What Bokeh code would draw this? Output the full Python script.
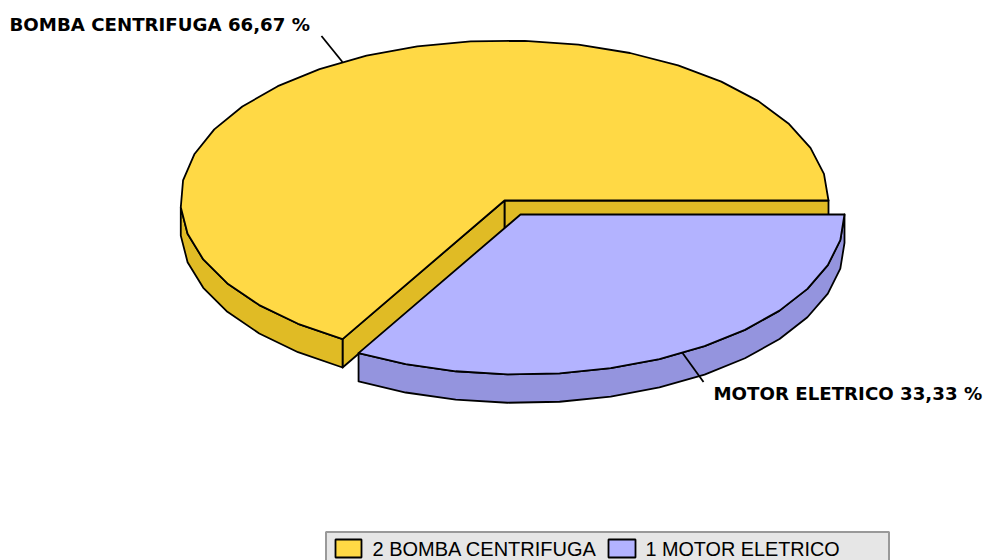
import math
from bokeh.plotting import figure
from bokeh.core.properties import value
from bokeh.embed import file_html
from bokeh.resources import INLINE

categories = ["BOMBA CENTRIFUGA", "MOTOR ELETRICO"]
legend_ids = ["2", "1"]
percent_labels = ["66,67", "33,33"]
values = [66.67, 33.33]
steps = [25, 13]

YELLOW, YELLOW_DK = "#FFD945", "#E0BB25"
BLUE, BLUE_DK = "#B3B3FF", "#9494DE"
INK = "#000000"
LW = 1.8

RX, RY, DEPTH = 324, 160, 28.4
CX, CY = 505, 200
OX, OY = 16, 14

p = figure(width=985, height=560, x_range=(1, 986), y_range=(560, 0),
           toolbar_location=None, output_backend="svg", min_border=0,
           outline_line_color=None)
p.axis.visible = False
p.grid.visible = False

total = sum(values)
a0 = 0.0
a1 = a0 + 360 * values[0] / total
a2 = a1 + 360 * values[1] / total


def pt(cx, cy, deg, dy=0):
    r = math.radians(deg)
    return cx + RX * math.cos(r), cy - RY * math.sin(r) + dy


def arc(cx, cy, start, end, n, dy=0, lo=None):
    out = []
    for i in range(n + 1):
        d = start + (end - start) * i / n
        if lo is None or d >= lo:
            out.append(pt(cx, cy, d, dy))
    return out


def poly(points, fill):
    p.patch([q[0] for q in points], [q[1] for q in points], fill_color=fill,
            line_color=INK, line_width=LW, line_join="round")


# Yellow slice: inner walls, outer wall, top
end_y = pt(CX, CY, a0)
cut_y = pt(CX, CY, a1)
poly([(CX, CY), end_y, (end_y[0], end_y[1] + DEPTH), (CX, CY + DEPTH)], YELLOW_DK)
poly([(CX, CY), cut_y, (cut_y[0], cut_y[1] + DEPTH), (CX, CY + DEPTH)], YELLOW_DK)
top_y = arc(CX, CY, a0, a1, steps[0])
wall = arc(CX, CY, a0, a1, steps[0], lo=180)
poly(wall + [(q[0], q[1] + DEPTH) for q in reversed(wall)], YELLOW_DK)
poly([(CX, CY)] + top_y, YELLOW)

# Blue slice: outer wall, top
bx, by = CX + OX, CY + OY
top_b = arc(bx, by, a1, a2, steps[1])
poly(top_b + [(q[0], q[1] + DEPTH) for q in reversed(top_b)], BLUE_DK)
poly([(bx, by)] + top_b, BLUE)

# Leader lines at the middle of each slice
m1 = pt(CX, CY, (a0 + a1) / 2)
m2 = pt(bx, by, (a1 + a2) / 2)
p.line([m1[0], m1[0] - 21], [m1[1], m1[1] - 26], line_color=INK, line_width=LW)
p.line([m2[0], m2[0] + 21], [m2[1], m2[1] + 29], line_color=INK, line_width=LW)

# Slice labels
label_font = value("DejaVu Sans")
p.text([10], [23.5], text=[f"{categories[0]} {percent_labels[0]} %"], text_font=label_font,
       text_font_style="bold", text_font_size="18.2px", text_baseline="middle", text_color=INK)
p.text([714], [392.5], text=[f"{categories[1]} {percent_labels[1]} %"], text_font=label_font,
       text_font_style="bold", text_font_size="18.2px", text_baseline="middle", text_color=INK)

# Legend
p.quad(left=[326.5], right=[889.5], top=[531.5], bottom=[575], fill_color="#E6E6E6",
       line_color="#999999", line_width=2)
p.quad(left=[336], right=[362], top=[539], bottom=[557], fill_color=YELLOW,
       line_color=INK, line_width=LW)
p.quad(left=[609], right=[636], top=[539], bottom=[557], fill_color=BLUE,
       line_color=INK, line_width=LW)
leg_font = value("Liberation Sans")
p.text([373], [548], text=[f"{legend_ids[0]} {categories[0]}"], text_font=leg_font,
       text_font_size="20px", text_baseline="middle", text_color=INK)
p.text([646], [548], text=[f"{legend_ids[1]} {categories[1]}"], text_font=leg_font,
       text_font_size="19.8px", text_baseline="middle", text_color=INK)

open("out.html", "w").write(file_html(p, INLINE))
